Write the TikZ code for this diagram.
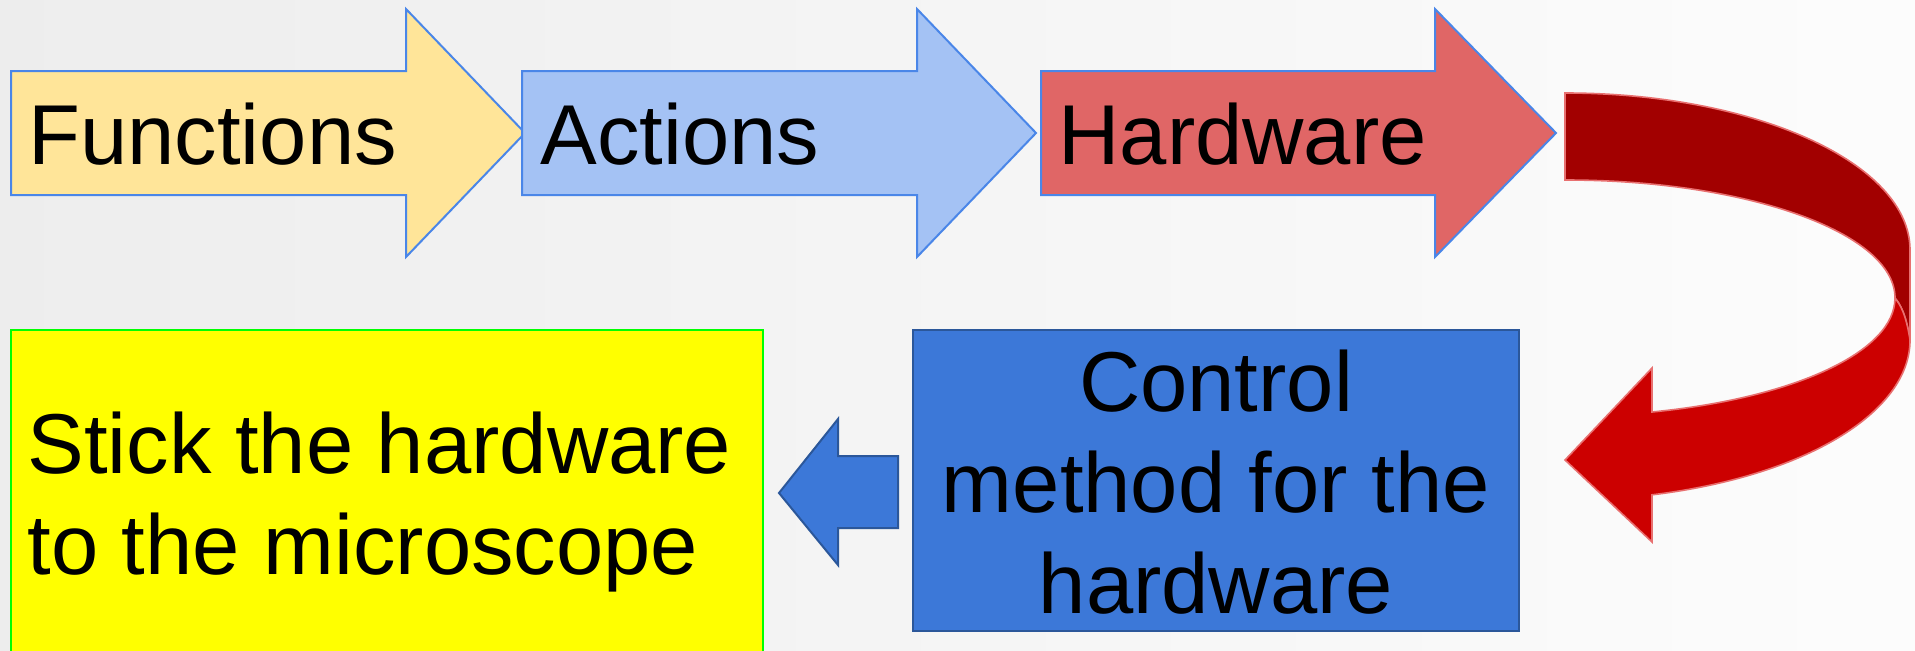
\documentclass[tikz,border=0pt]{standalone}
\usepackage{fontspec}
\setmainfont{Liberation Sans}
\definecolor{funcfill}{HTML}{FFE599}
\definecolor{actfill}{HTML}{A4C2F4}
\definecolor{hwfill}{HTML}{E06666}
\definecolor{shapeline}{HTML}{4A86E8}
\definecolor{ctrlfill}{HTML}{3C78D8}
\definecolor{ctrlline}{HTML}{2B579A}
\definecolor{stickfill}{HTML}{FFFF00}
\definecolor{stickline}{HTML}{00FF00}
\definecolor{backred}{HTML}{A20000}
\definecolor{frontred}{HTML}{CC0000}
\definecolor{redline}{HTML}{E87070}
\tikzset{
  bigtext/.style={inner sep=0pt,font=\fontsize{42.5}{50.5}\selectfont},
  blockarrow/.style={draw=shapeline,line width=1pt},
}
\begin{document}
\begin{tikzpicture}
    [x=0.5pt,y=0.5pt]
    %background
    \useasboundingbox (0,0) rectangle (1915,650);
    \shade[left color=black!7,right color=black!1] (0,0) rectangle (1915,650);
    %top row of block arrows
    \draw[blockarrow,fill=funcfill] (11,455)--(11,579)--(406,579)--(406,641)--(525,517)--(406,393)--(406,455)--cycle;
    \draw[blockarrow,fill=actfill] (522,455)--(522,579)--(917,579)--(917,641)--(1036,517)--(917,393)--(917,455)--cycle;
    \draw[blockarrow,fill=hwfill] (1041,455)--(1041,579)--(1435,579)--(1435,641)--(1556,517)--(1435,393)--(1435,455)--cycle;
    \node[bigtext,anchor=base west] (fn) at (28,486) {Functions};
    \node[bigtext,anchor=base west] (act) at (540,486) {Actions};
    \node[bigtext,anchor=base west] (hw) at (1058,486) {Hardware};
    %curved arrow, back part
    \draw[redline,line width=0.8pt,fill=backred] (1565,557) arc[start angle=90,end angle=0,x radius=345,y radius=157]
        --(1910,310) .. controls (1906,336) and (1900,346) .. (1895,352)
        arc[start angle=0,end angle=90,x radius=330,y radius=118]--cycle;
    %curved arrow, front part with head
    \draw[redline,line width=0.8pt,fill=frontred] (1910,310) arc[start angle=0,end angle=-75.4,x radius=345,y radius=160]
        --(1652,108)--(1565,190)--(1652,282)--(1652,238)
        arc[start angle=-74.7,end angle=0,x radius=330,y radius=118]
        .. controls (1900,346) and (1906,336) .. (1910,310)--cycle;
    %bottom row
    \draw[stickline,line width=1pt,fill=stickfill] (11,-10) rectangle (763,320);
    \draw[ctrlline,line width=1pt,fill=ctrlfill] (913,19) rectangle (1519,320);
    \node[bigtext,anchor=base west,align=left] (stick) at (27,76) {Stick the hardware\\to the microscope};
    \node[bigtext,anchor=base,align=center] (ctrl) at (1216,37) {Control\\method for the\\hardware};
    %small arrow back to the left
    \draw[ctrlline,line width=1pt,fill=ctrlfill] (898,122)--(898,194)--(838,194)--(838,231)--(779,157)--(838,85)--(838,122)--cycle;
\end{tikzpicture}
\end{document}
